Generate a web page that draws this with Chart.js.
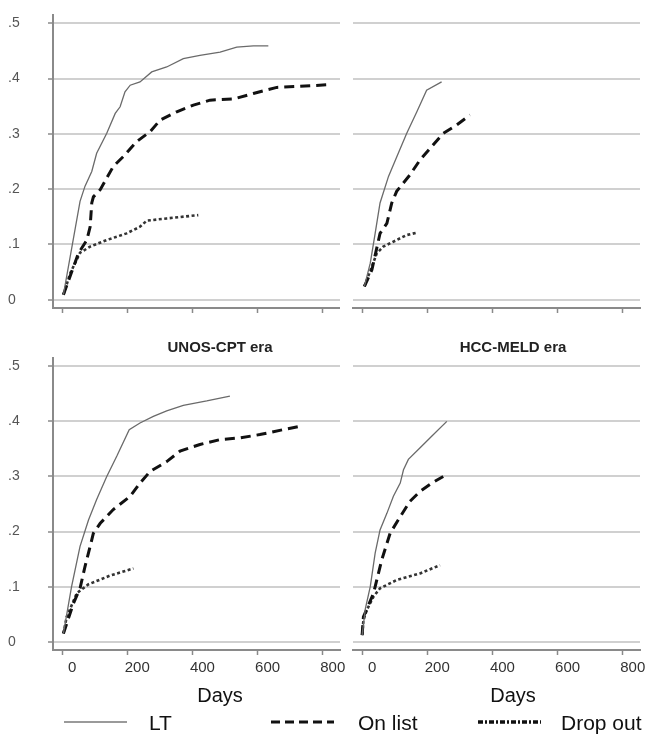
<!DOCTYPE html>
<html>
<head>
<meta charset="utf-8">
<script src="https://cdn.jsdelivr.net/npm/chart.js@4.4.1/dist/chart.umd.min.js"></script>
<style>
html,body{margin:0;padding:0;background:#fff;overflow:hidden;}
#wrap{position:relative;width:649px;height:735px;overflow:hidden;background:#fff;}
#wrap canvas{position:absolute;}
</style>
</head>
<body>
<div id="wrap">
  <canvas id="tl" width="340" height="322" style="left:0;top:0"></canvas>
  <canvas id="tr" width="309" height="322" style="left:340px;top:0"></canvas>
  <canvas id="bl" width="432" height="392" style="left:0;top:320px"></canvas>
  <canvas id="br" width="346" height="392" style="left:340px;top:320px"></canvas>
  <canvas id="lg" width="649" height="27" style="left:0;top:708px"></canvas>
</div>
<script>
// ---------- data (days, cumulative incidence) ----------
const seriesLabels = ['LT', 'On list', 'Drop out'];
const panelTitles = ['', '', 'UNOS-CPT era', 'HCC-MELD era'];
const xTicks = [0, 200, 400, 600, 800];
const yTicks = [0, 0.1, 0.2, 0.3, 0.4, 0.5];
const xAxisLabel = 'Days';

// top-left panel
const tlLtDays   = [4, 55, 70, 91, 106, 137, 163, 178, 193, 209, 239, 275, 321, 372, 423, 485, 536, 587, 633];
const tlLtVals   = [0.009, 0.178, 0.205, 0.232, 0.265, 0.301, 0.337, 0.349, 0.376, 0.388, 0.394, 0.412, 0.421, 0.436, 0.442, 0.448, 0.457, 0.459, 0.459];
const tlOnDays   = [4, 50, 76, 86, 91, 96, 117, 157, 188, 229, 270, 301, 352, 403, 454, 526, 587, 659, 730, 822];
const tlOnVals   = [0.009, 0.084, 0.108, 0.132, 0.175, 0.186, 0.199, 0.241, 0.259, 0.286, 0.304, 0.325, 0.340, 0.352, 0.361, 0.363, 0.373, 0.384, 0.386, 0.389];
const tlDoDays   = [4, 25, 55, 86, 137, 198, 239, 260, 321, 418];
const tlDoVals   = [0.009, 0.048, 0.085, 0.096, 0.108, 0.120, 0.132, 0.143, 0.147, 0.153];

// top-right panel
const trLtDays   = [7, 25, 40, 55, 81, 111, 137, 168, 198, 244];
const trLtVals   = [0.024, 0.066, 0.120, 0.175, 0.223, 0.265, 0.301, 0.340, 0.379, 0.394];
const trOnDays   = [7, 30, 55, 76, 91, 106, 147, 178, 209, 249, 290, 331];
const trOnVals   = [0.024, 0.054, 0.120, 0.138, 0.175, 0.196, 0.226, 0.253, 0.274, 0.301, 0.316, 0.334];
const trDoDays   = [7, 30, 45, 65, 106, 137, 166];
const trDoVals   = [0.024, 0.060, 0.084, 0.096, 0.108, 0.117, 0.121];

// bottom-left panel (UNOS-CPT era)
const blLtDays   = [4, 29, 55, 81, 106, 137, 168, 206, 239, 280, 321, 372, 444, 515];
const blLtVals   = [0.015, 0.100, 0.173, 0.221, 0.258, 0.300, 0.337, 0.385, 0.397, 0.409, 0.419, 0.429, 0.437, 0.446];
const blOnDays   = [4, 35, 55, 70, 86, 96, 117, 157, 209, 239, 270, 321, 362, 423, 485, 546, 607, 679, 730];
const blOnVals   = [0.015, 0.070, 0.097, 0.136, 0.173, 0.197, 0.215, 0.240, 0.264, 0.288, 0.309, 0.327, 0.346, 0.358, 0.367, 0.370, 0.376, 0.385, 0.391];
const blDoDays   = [4, 14, 45, 80, 147, 219];
const blDoVals   = [0.015, 0.045, 0.088, 0.104, 0.120, 0.133];

// bottom-right panel (HCC-MELD era)
const brLtDays   = [0, 10, 25, 40, 55, 76, 96, 117, 127, 142, 178, 219, 260];
const brLtVals   = [0.012, 0.060, 0.100, 0.161, 0.203, 0.233, 0.264, 0.288, 0.312, 0.331, 0.352, 0.376, 0.400];
const brOnDays   = [0, 4, 35, 60, 86, 117, 147, 178, 214, 249];
const brOnVals   = [0.012, 0.045, 0.088, 0.148, 0.197, 0.227, 0.255, 0.273, 0.288, 0.300];
const brDoDays   = [0, 4, 14, 35, 55, 106, 178, 239];
const brDoVals   = [0.012, 0.039, 0.057, 0.082, 0.097, 0.112, 0.124, 0.139];

// ---------- styling ----------
const FONT_REG = '"Liberation Sans",Arial,sans-serif';
Chart.defaults.font.family = FONT_REG;

const seriesStyles = [
  {borderColor:'#6a6a6a', borderWidth:1.3, borderDash:[], legendColor:'#9a9a9a', legendWidth:2, legendDash:[]},
  {borderColor:'#111111', borderWidth:3, borderDash:[10,6], legendColor:'#111111', legendWidth:3, legendDash:[9,5]},
  {borderColor:'#333333', borderWidth:2.6, borderDash:[3,2.5], legendColor:'#111111', legendWidth:3.5, legendDash:[5,2,2,2]}
];

function toPoints(days, vals){ return days.map((d,i)=>({x:d, y:vals[i]})); }
function yLabel(v){
  if (Math.abs(v) < 1e-9) return '0';
  return v.toFixed(1).replace(/^0/, '');
}

function panel(canvasId, title, series, p){
  const datasets = series.map((s, i) => Object.assign({
    label: seriesLabels[i],
    data: toPoints(s[0], s[1]),
    fill:false, pointRadius:0, tension:0, borderCapStyle:'butt'
  }, seriesStyles[i]));
  const scales = {
    x:{type:'linear', min:-28, max:853,
       afterBuildTicks: s => { s.ticks = xTicks.map(v => ({value:v})); },
       ticks:{display:p.showX, labelOffset:10, padding:4, maxRotation:0, autoSkip:false,
              color:'#333', font:{family:FONT_REG, size:15}},
       grid:{drawOnChartArea:false, drawTicks:true, tickLength:5, tickColor:'#8a8a8a', tickWidth:1.5},
       border:{display:true, color:'#8a8a8a', width:2},
       afterFit: s => { s.height = p.xHeight; }
    },
    y:{type:'linear', min:-0.015, max:0.515,
       afterBuildTicks: s => { s.ticks = yTicks.map(v => ({value:v})); },
       ticks:{display:p.showY, crossAlign:'far', padding:0, color:'#555',
              font:{family:FONT_REG, size:14}, callback: v => yLabel(v)},
       grid:{color:'#d0d0d0', lineWidth:2, drawTicks:p.showY, tickLength:5, tickColor:'#8a8a8a', tickWidth:1.5},
       border:{display:p.showY, color:'#8a8a8a', width:2},
       afterFit: s => { s.width = p.yWidth; }
    }
  };
  if (p.rightSpace) {
    // empty spacer on the right so the panel title / "Days" sit where they do in the figure
    scales.ySpace = {type:'linear', position:'right', min:-0.015, max:0.515, display:true,
       grid:{display:false}, border:{display:false}, ticks:{display:false},
       afterFit: s => { s.width = p.rightSpace; }};
  }
  return new Chart(document.getElementById(canvasId), {
    type:'line',
    data:{datasets},
    options:{
      responsive:false, animation:false, devicePixelRatio:1,
      layout:{padding:p.padding},
      plugins:{
        legend:{display:false}, tooltip:{enabled:false},
        title:{display:!!title, text:title, color:'#222',
               font:{family:FONT_REG, size:15, weight:'bold'}, padding:{top:19, bottom:1}},
        subtitle:{display:p.showX, text:xAxisLabel, position:'bottom', color:'#111',
               font:{family:FONT_REG, size:20}, padding:{top:6, bottom:4}}
      },
      scales
    }
  });
}

panel('tl', panelTitles[0], [[tlLtDays,tlLtVals],[tlOnDays,tlOnVals],[tlDoDays,tlDoVals]],
      {padding:{left:8, top:15, right:0, bottom:0}, yWidth:45, xHeight:14, showX:false, showY:true});
panel('tr', panelTitles[1], [[trLtDays,trLtVals],[trOnDays,trOnVals],[trDoDays,trDoVals]],
      {padding:{left:0, top:15, right:9, bottom:0}, yWidth:13, xHeight:14, showX:false, showY:false});
panel('bl', panelTitles[2], [[blLtDays,blLtVals],[blOnDays,blOnVals],[blDoDays,blDoVals]],
      {padding:{left:8, top:0, right:0, bottom:0}, yWidth:45, xHeight:28, rightSpace:92, showX:true, showY:true});
panel('br', panelTitles[3], [[brLtDays,brLtVals],[brOnDays,brOnVals],[brDoDays,brDoVals]],
      {padding:{left:0, top:0, right:0, bottom:0}, yWidth:13, xHeight:28, rightSpace:46, showX:true, showY:false});

// ---------- legend strip ----------
const lineLegend = {
  id:'lineLegend',
  afterDraw(chart, args, opts){
    const ctx = chart.ctx;
    chart.data.datasets.forEach((ds, i) => {
      const x0 = opts.x[i], y = opts.y;
      ctx.save();
      ctx.strokeStyle = ds.legendColor; ctx.lineWidth = ds.legendWidth;
      ctx.setLineDash(ds.legendDash);
      ctx.beginPath(); ctx.moveTo(x0, y); ctx.lineTo(x0 + opts.len, y); ctx.stroke();
      ctx.setLineDash([]);
      ctx.fillStyle = '#111'; ctx.font = opts.font;
      ctx.textBaseline = 'middle'; ctx.textAlign = 'left';
      ctx.fillText(ds.label, opts.tx[i], y + 2);
      ctx.restore();
    });
  }
};
new Chart(document.getElementById('lg'), {
  type:'line',
  data:{datasets: seriesLabels.map((l,i) => Object.assign({label:l, data:[]}, seriesStyles[i]))},
  options:{
    responsive:false, animation:false, devicePixelRatio:1,
    scales:{x:{display:false}, y:{display:false}},
    plugins:{legend:{display:false}, tooltip:{enabled:false},
      lineLegend:{x:[64, 271, 478], tx:[149, 358, 561], len:63, y:14, font:'21px ' + FONT_REG}}
  },
  plugins:[lineLegend]
});
</script>
</body>
</html>
